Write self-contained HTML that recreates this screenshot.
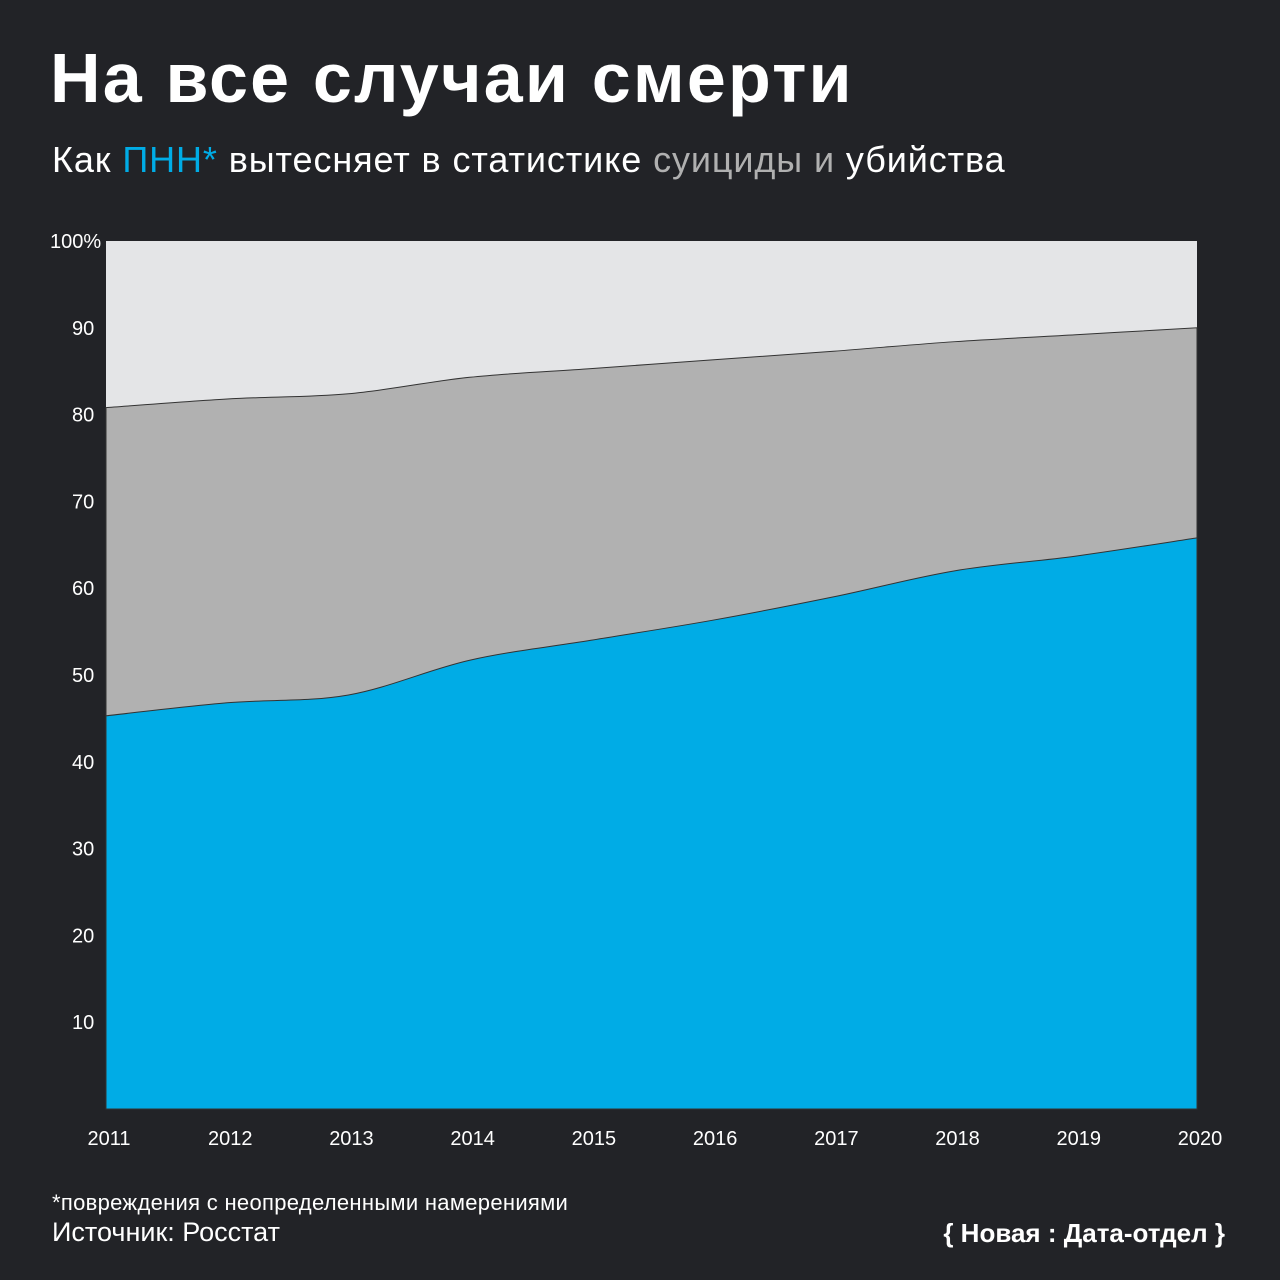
<!DOCTYPE html>
<html><head><meta charset="utf-8"><style>
body{margin:0;background:#222327;width:1280px;height:1280px;overflow:hidden;font-family:"Liberation Sans","DejaVu Sans",sans-serif;color:#fff}
.t{position:absolute;left:50px;top:38px;font-size:70px;font-weight:bold;letter-spacing:2.2px}
.s{position:absolute;left:52px;top:139px;font-size:36px;letter-spacing:0.9px}
.n{position:absolute;left:52px;top:1190px;font-size:22px;letter-spacing:0.3px}
.src{position:absolute;left:52px;top:1217px;font-size:27px}
.logo{position:absolute;right:55px;top:1218px;font-size:26px;font-weight:bold}
svg{position:absolute;left:0;top:0}
</style></head><body>
<div class="t">На все случаи смерти</div>
<div class="s">Как <span style="color:#00ace6">ПНН*</span> вытесняет в статистике <span style="color:#b0b0b0">суициды</span> <span style="color:#b0b0b0">и</span> убийства</div>
<svg id="c" width="1280" height="1280"></svg>
<div class="n">*повреждения с неопределенными намерениями</div>
<div class="src">Источник: Росстат</div>
<div class="logo">{ Новая : Дата-отдел }</div>
<script>
const years=[2011,2012,2013,2014,2015,2016,2017,2018,2019,2020];
const pnn=[45.3,46.8,47.7,51.7,54.0,56.3,59.0,62.0,63.7,65.8];
const pnnSuicide=[80.8,81.8,82.4,84.3,85.3,86.3,87.3,88.4,89.2,90.0];
const yTicks=[10,20,30,40,50,60,70,80,90,100];
const X0=106,X1=1197,Y0=1109,Y1=241;
const xs=i=>X0+(X1-X0)*i/(years.length-1);
const ys=v=>Y0-(Y0-Y1)*v/100;
const svg=document.getElementById('c');const NS='http://www.w3.org/2000/svg';
function mk(t,a){const e=document.createElementNS(NS,t);for(const k in a)e.setAttribute(k,a[k]);svg.appendChild(e);return e;}
function curve(vals){const p=vals.map((v,i)=>[xs(i),ys(v)]);let d=`M${p[0][0]},${p[0][1]}`;
for(let i=0;i<p.length-1;i++){const a=p[i-1]||p[i],b=p[i],c=p[i+1],e=p[i+2]||c;
d+=` C${b[0]+(c[0]-a[0])/6},${b[1]+(c[1]-a[1])/6} ${c[0]-(e[0]-b[0])/6},${c[1]-(e[1]-b[1])/6} ${c[0]},${c[1]}`;}return d;}
let r=mk('rect',{x:X0,y:Y1,width:X1-X0,height:Y0-Y1,fill:'#e4e5e7'});

let g=mk('path',{d:curve(pnnSuicide)+` L${X1},${Y0} L${X0},${Y0} Z`,fill:'#b1b1b1',stroke:'#333','stroke-width':1});

let b=mk('path',{d:curve(pnn)+` L${X1},${Y0} L${X0},${Y0} Z`,fill:'#00ace6',stroke:'#333','stroke-width':1});

yTicks.forEach(v=>{const t=mk('text',{x:v==100?50:72,y:ys(v)+7,fill:'#fff','font-size':20,'text-anchor':'start','font-family':'Liberation Sans, sans-serif'});t.textContent=v==100?'100%':v;
});
years.forEach((y,i)=>{const t=mk('text',{x:xs(i)+3,y:1145,fill:'#fff','font-size':20,'text-anchor':'middle','font-family':'Liberation Sans, sans-serif'});t.textContent=y;
});
</script>
</body></html>
